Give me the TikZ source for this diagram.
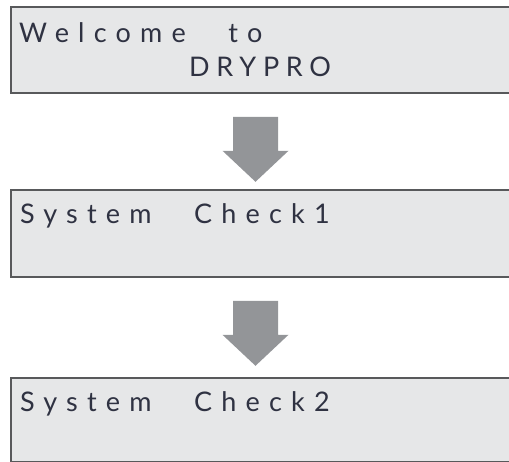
\documentclass[tikz,border=0pt]{standalone}
\usepackage{fontspec}
\setmainfont{Lato}[LetterSpace=34,WordSpace=2.65]
\definecolor{lcdfill}{HTML}{E6E7E8}
\definecolor{lcdline}{HTML}{58595B}
\definecolor{lcdtext}{HTML}{2F3242}
\definecolor{arrowgray}{HTML}{939598}
\tikzset{
  lcd/.style={draw=lcdline,line width=1.8pt,fill=lcdfill,inner sep=0,
    minimum width=502pt,anchor=north west},
  lcdtxt/.style={text=lcdtext,font=\fontsize{27}{27}\selectfont,inner sep=0,anchor=base west},
  arrowfill/.style={fill=arrowgray}
}
\newcommand\DropArrow[1]{%
\fill[arrowfill] (#1) ++(-22.5,0) -- ++(45,0) -- ++(0,34) -- ++(10.5,0)
  -- ++(-33,31) -- ++(-33,-31) -- ++(10.5,0) -- cycle;}

\begin{document}
\begin{tikzpicture}[x=1pt,y=-1pt]
\useasboundingbox (0,0) rectangle (509,462);
\node[lcd,minimum height=86pt] (welcome) at (10,6) {};
\node[lcd,minimum height=87pt] (check1) at (10,189) {};
\node[lcd,minimum height=84pt] (check2) at (10,377) {};
\node[lcdtxt] (welcometxt) at ([shift={(9,37)}]welcome.north west) {Welcome to};
\node[lcdtxt,font=\fontsize{27}{27}\selectfont\addfontfeature{LetterSpace=25}]
  (dryprotxt) at ([shift={(179,71)}]welcome.north west) {DRYPRO};
\node[lcdtxt] (check1txt) at ([shift={(10,35)}]check1.north west) {System Check1};
\node[lcdtxt] (check2txt) at ([shift={(10,35)}]check2.north west) {System Check2};
% arrows between the screens
\coordinate (arr1) at ([yshift=-23pt]welcome.south -| 255.5,0);
\coordinate (arr2) at ([yshift=-23pt]check1.south -| 255.5,0);
\DropArrow{arr1}
\DropArrow{arr2}
\end{tikzpicture}
\end{document}
